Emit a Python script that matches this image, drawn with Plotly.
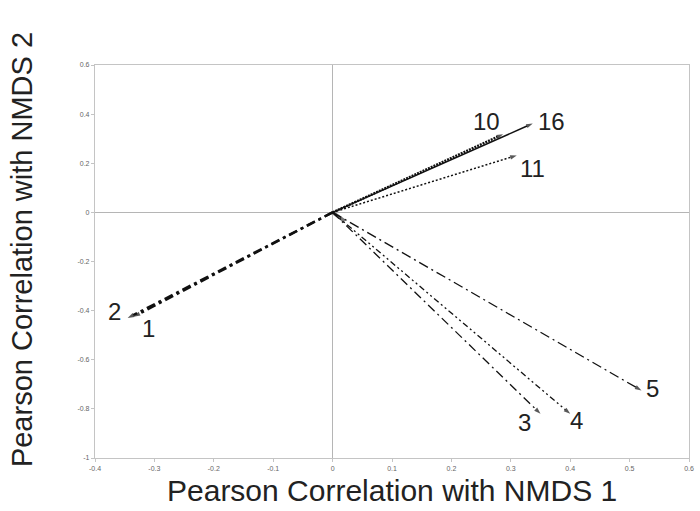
import plotly.graph_objects as go

# Vector endpoints (Pearson correlations with the NMDS axes)
labels = ["1", "2", "3", "4", "5", "10", "11", "16"]
nmds1 = [-0.335, -0.345, 0.35, 0.40, 0.52, 0.287, 0.31, 0.337]
nmds2 = [-0.425, -0.43, -0.82, -0.82, -0.725, 0.318, 0.232, 0.362]

# short residual vector near the origin
minor_x = [0.02]
minor_y = [-0.035]

x_ticks = [-0.4, -0.3, -0.2, -0.1, 0, 0.1, 0.2, 0.3, 0.4, 0.5, 0.6]
y_ticks = [0.6, 0.4, 0.2, 0, -0.2, -0.4, -0.6, -0.8, -1]

# line styles per vector: (dash, width)
styles = {
    "1": ("9px,4px,3px,4px", 2.4),
    "2": ("9px,4px,3px,4px", 2.4),
    "3": ("9px,4px,2px,4px", 1.3),
    "4": ("6px,3px,2px,3px,2px,3px", 1.3),
    "5": ("10px,4px,2px,4px", 1.3),
    "10": ("2px,1px", 2.4),
    "11": ("2px,2px", 1.5),
    "16": ("solid", 1.5),
}
# label offsets from the arrow tip, in pixels
label_shift = {
    "1": (15, -12), "2": (-13, 6), "3": (-16, -9), "4": (6, -7),
    "5": (11, 2), "10": (-17, 13), "11": (16, -13), "16": (19, 2),
}

fig = go.Figure()

fig.add_trace(go.Scatter(
    x=[0, minor_x[0]], y=[0, minor_y[0]], mode="lines",
    line=dict(color="#777", width=3.5), hoverinfo="skip", showlegend=False))

for lab, vx, vy in zip(labels, nmds1, nmds2):
    dash, w = styles[lab]
    fig.add_trace(go.Scatter(
        x=[0, vx], y=[0, vy], mode="lines+markers",
        line=dict(color="#111", width=w, dash=dash),
        marker=dict(symbol="arrow", size=[0, 7], angleref="previous",
                    color="#111", line=dict(width=0)),
        showlegend=False, name=lab))
    sx, sy = label_shift[lab]
    fig.add_annotation(x=vx, y=vy, text=lab, showarrow=False,
                       xshift=sx, yshift=sy,
                       font=dict(family="Liberation Sans, Arial", size=24, color="#222"))

axis_common = dict(
    showgrid=False, zeroline=True, zerolinecolor="#b5b5b5", zerolinewidth=1,
    showline=True, linecolor="#c4c4c4", linewidth=1.2, mirror=True,
    ticks="outside", ticklen=3, tickcolor="#c4c4c4",
    tickfont=dict(family="Liberation Sans, Arial", size=7, color="#666"),
)

fig.update_xaxes(range=[-0.4, 0.6], tickvals=x_ticks,
                 ticktext=[f"{v:g}" for v in x_ticks], **axis_common)
fig.update_yaxes(range=[-1, 0.6], tickvals=y_ticks,
                 ticktext=[f"{v:g}" for v in y_ticks], **axis_common)

fig.add_annotation(text="Pearson Correlation with NMDS 1", xref="paper", yref="paper",
                   x=0.5, y=0, yshift=-32, xanchor="center", yanchor="middle",
                   showarrow=False,
                   font=dict(family="Liberation Sans, Arial", size=30, color="#222"))
fig.add_annotation(text="Pearson Correlation with NMDS 2", xref="paper", yref="paper",
                   x=0, xshift=-73, y=0.529, xanchor="center", yanchor="middle",
                   textangle=-90, showarrow=False,
                   font=dict(family="Liberation Sans, Arial", size=29, color="#222"))

fig.update_layout(
    width=700, height=511,
    margin=dict(l=95, r=6, t=65, b=53),
    paper_bgcolor="white", plot_bgcolor="white",
)

fig.write_html("out.html")
